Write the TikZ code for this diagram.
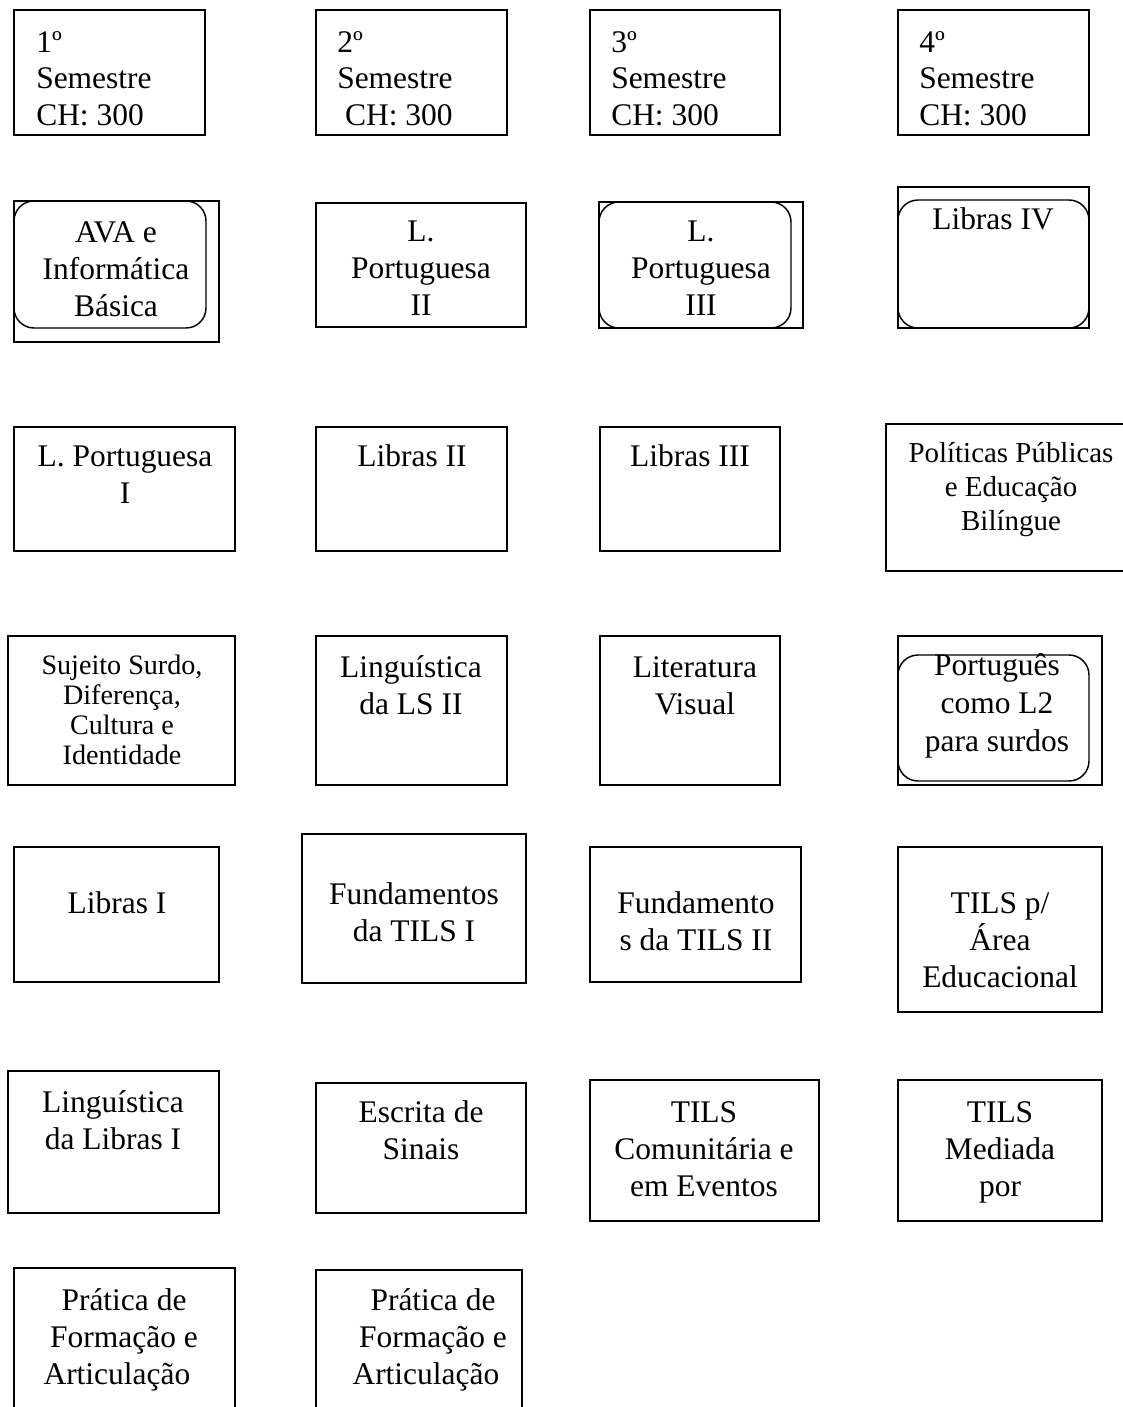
\documentclass[tikz,border=0pt]{standalone}
\usepackage{fontspec}
\setmainfont{Liberation Serif}
\usetikzlibrary{fit}
\tikzset{
  box/.style={draw, line width=1.1pt, rectangle, inner sep=0pt},
  rbox/.style={box, rounded corners=15pt},
  txt/.style={align=center, inner sep=0pt, anchor=north, font=\fontsize{23.6}{27.75}\selectfont},
  htxt/.style={align=left, inner sep=0pt, anchor=north west, font=\fontsize{23.6}{27.5}\selectfont},
  smalltxt/.style={txt, font=\fontsize{21.1}{22.5}\selectfont},
  poltxt/.style={txt, font=\fontsize{21.7}{25.5}\selectfont},
  widetxt/.style={txt, font=\fontsize{23.6}{28.5}\selectfont},
}
\begin{document}
\begin{tikzpicture}[x=0.75pt,y=-0.75pt]
\useasboundingbox (0,0) rectangle (1123,1407);
% header row
\node[box, fit={(14,10) (205,135)}] (h1) {};
\node[htxt] (h1t) at (36,31) {1º\\Semestre\\CH: 300};
\node[box, fit={(316,10) (507,135)}] (h2) {};
\node[htxt] (h2t) at (337,31) {2º\\Semestre\\\hspace*{0.25em}CH: 300};
\node[box, fit={(590,10) (780,135)}] (h3) {};
\node[htxt] (h3t) at (611,31) {3º\\Semestre\\CH: 300};
\node[box, fit={(898,10) (1089,135)}] (h4) {};
\node[htxt] (h4t) at (919,31) {4º\\Semestre\\CH: 300};
% row 2
\node[box, fit={(14,201) (219,342)}] (ava) {};
\node[rbox, fit={(14,201) (206,328)}] (avar) {};
\node[txt] (avat) at (116,221) {AVA e\\Informática\\Básica};
\node[box, fit={(316,203) (526,327)}] (lp2) {};
\node[txt] (lp2t) at (421,221) {L.\\Portuguesa\\II};
\node[box, fit={(599,202) (803,328)}] (lp3) {};
\node[rbox, fit={(599,202) (791,328)}] (lp3r) {};
\node[txt] (lp3t) at (701,221) {L.\\Portuguesa\\III};
\node[box, fit={(898,187) (1089,328)}] (lib4) {};
\node[rbox, fit={(898,200) (1089,328)}] (lib4r) {};
\node[txt] (lib4t) at (993,207) {Libras IV};
% row 3
\node[box, fit={(14,427) (235,551)}] (lp1) {};
\node[txt] (lp1t) at (125,446) {L. Portuguesa\\I};
\node[box, fit={(316,427) (507,551)}] (lib2) {};
\node[txt] (lib2t) at (412,444) {Libras II};
\node[box, fit={(600,427) (780,551)}] (lib3) {};
\node[txt] (lib3t) at (690,444) {Libras III};
\node[box, fit={(886,424) (1135,571)}] (pol) {};
\node[poltxt] (polt) at (1011,442) {Políticas Públicas\\e Educação\\Bilíngue};
% row 4
\node[box, fit={(8,636) (235,785)}] (suj) {};
\node[smalltxt] (sujt) at (122,655) {Sujeito Surdo,\\Diferença,\\Cultura e\\Identidade};
\node[box, fit={(316,636) (507,785)}] (ling2) {};
\node[txt] (ling2t) at (411,655) {Linguística\\da LS II};
\node[box, fit={(600,636) (780,785)}] (lit) {};
\node[txt] (litt) at (695,656) {Literatura\\Visual};
\node[box, fit={(898,636) (1102,785)}] (port) {};
\node[rbox, fit={(898,655) (1089,781)}] (portr) {};
\node[widetxt] (portt) at (997,653) {Português\\como L2\\para surdos};
% row 5
\node[box, fit={(14,847) (219,982)}] (lib1) {};
\node[txt] (lib1t) at (117,891) {Libras I};
\node[box, fit={(302,834) (526,983)}] (fund1) {};
\node[txt] (fund1t) at (414,882) {Fundamentos\\da TILS I};
\node[box, fit={(590,847) (801,982)}] (fund2) {};
\node[txt] (fund2t) at (696,891) {Fundamento\\s da TILS II};
\node[box, fit={(898,847) (1102,1012)}] (tilsp) {};
\node[txt] (tilspt) at (1000,892) {TILS p/\\Área\\Educacional};
% row 6
\node[box, fit={(8,1071) (219,1213)}] (ling1) {};
\node[txt] (ling1t) at (113,1090) {Linguística\\da Libras I};
\node[box, fit={(316,1083) (526,1213)}] (escr) {};
\node[txt] (escrt) at (421,1100) {Escrita de\\Sinais};
\node[box, fit={(590,1080) (819,1221)}] (com) {};
\node[txt] (comt) at (704,1101) {TILS\\Comunitária e\\em Eventos};
\node[box, fit={(898,1080) (1102,1221)}] (med) {};
\node[txt] (medt) at (1000,1101) {TILS\\Mediada\\por};
% row 7
\node[box, fit={(14,1268) (235,1420)}] (prat1) {};
\node[txt] (prat1t) at (124,1288) {Prática de\\Formação e\\Articulação\hspace*{0.45em}};
\node[box, fit={(316,1270) (522,1420)}] (prat2) {};
\node[txt] (prat2t) at (433,1288) {Prática de\\Formação e\\Articulação\hspace*{0.45em}};
\end{tikzpicture}
\end{document}
